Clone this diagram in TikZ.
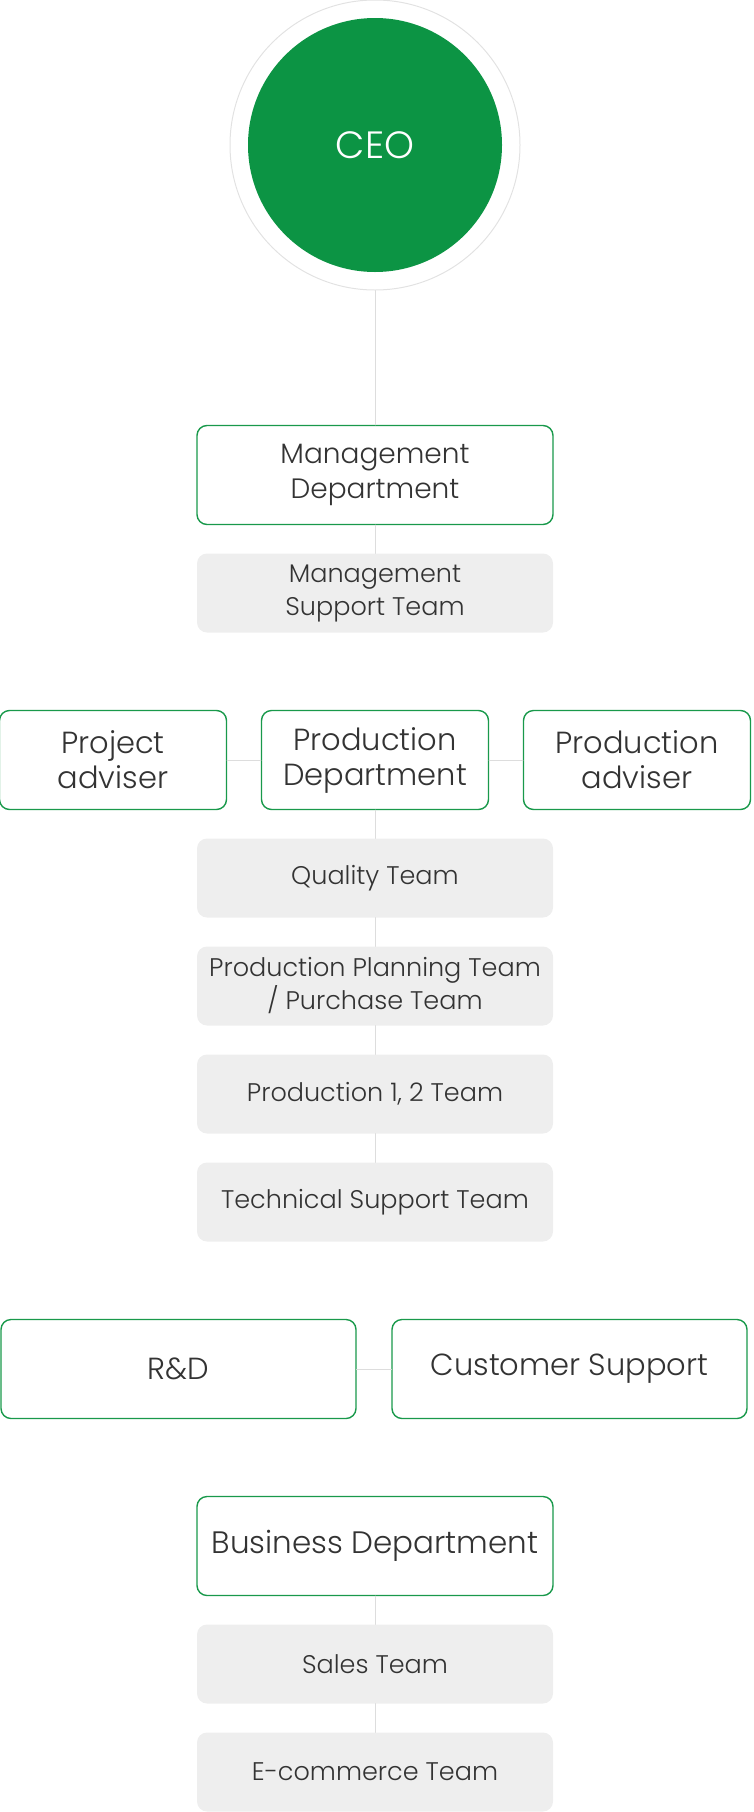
\documentclass[tikz,border=0pt]{standalone}
\usepackage{fontspec}
\setmainfont{Poppins}[UprightFont={* Light}]
\usepackage{xcolor}
\definecolor{ceogreen}{HTML}{0C9444}
\definecolor{boxgreen}{HTML}{19994B}
\definecolor{textgray}{HTML}{333333}
\definecolor{teamgray}{HTML}{EEEEEE}
\definecolor{linkgray}{HTML}{DDDDDD}
\definecolor{ringgray}{HTML}{E2E2E2}

\begin{document}
\begin{tikzpicture}[x=1pt,y=-1pt,line cap=round,line join=round,
  dept/.style={draw=boxgreen,line width=1.4pt,fill=white,rounded corners=10pt,
    minimum width=356pt,minimum height=99pt,align=center,text=textgray,inner sep=0pt,
    font=\fontsize{28}{35}\selectfont},
  side/.style={dept,minimum width=227pt,font=\fontsize{30.5}{35}\selectfont},
  wide/.style={dept,minimum width=355pt,font=\fontsize{30.5}{35}\selectfont},
  team/.style={fill=teamgray,rounded corners=10pt,minimum width=356pt,minimum height=79pt,
    align=center,text=textgray,inner sep=0pt,font=\fontsize{25.5}{33}\selectfont},
  link/.style={draw=linkgray,line width=1pt}]
 	\useasboundingbox (0,0) rectangle (753,1812);
 	% CEO
 	\node[circle,draw=ringgray,line width=1pt,minimum size=290pt,inner sep=0pt] (ring) at (375,145) {};
 	\node[circle,fill=ceogreen,minimum size=254pt,inner sep=0pt,text=white,font=\fontsize{38}{44}\selectfont] (ceo) at (375,145) {CEO};
 	% management
 	\node[dept] (md) at (375,475) {Management\\Department};
 	\node[team] (mst) at (375,593) {Management\\Support Team};
 	% production
 	\node[side] (pd) at (375,760) {Production\\Department};
 	\node[side] (pja) at (113,760) {Project\\adviser};
 	\node[side] (pra) at (637,760) {Production\\adviser};
 	\node[team] (qt) at (375,878) {Quality Team};
 	\node[team] (ppt) at (375,986) {Production Planning Team\\/ Purchase Team};
 	\node[team] (p12) at (375,1094) {Production 1, 2 Team};
 	\node[team] (tst) at (375,1202) {Technical Support Team};
 	% r&d, support
 	\node[wide] (rd) at (178.5,1369) {R\&D};
 	\node[wide] (cs) at (569.5,1369) {Customer Support};
 	% business
 	\node[dept,font=\fontsize{31}{35}\selectfont] (bd) at (375,1546) {Business Department};
 	\node[team] (st) at (375,1664) {Sales Team};
 	\node[team] (et) at (375,1772) {E-commerce Team};
 	% links
 	\draw[link] (ring.south) -- (md.north);
 	\draw[link] (md.south) -- (mst.north);
 	\draw[link] (pja.east) -- (pd.west);
 	\draw[link] (pd.east) -- (pra.west);
 	\draw[link] (pd.south) -- (qt.north);
 	\draw[link] (qt.south) -- (ppt.north);
 	\draw[link] (ppt.south) -- (p12.north);
 	\draw[link] (p12.south) -- (tst.north);
 	\draw[link] (rd.east) -- (cs.west);
 	\draw[link] (bd.south) -- (st.north);
 	\draw[link] (st.south) -- (et.north);
\end{tikzpicture}
\end{document}
